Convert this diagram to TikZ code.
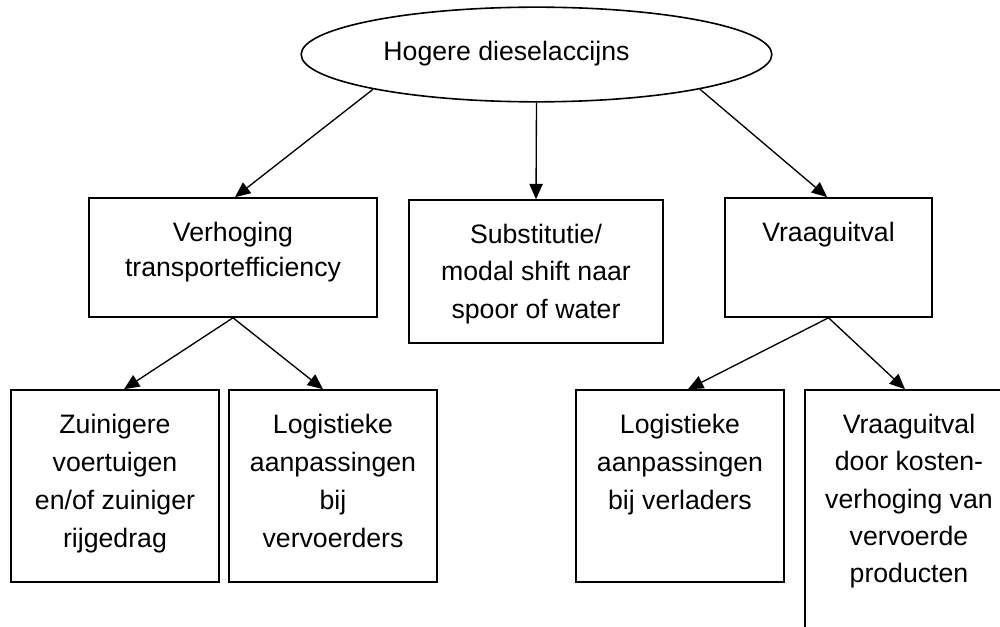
\documentclass[tikz,border=0pt]{standalone}
\usepackage{fontspec}
\setmainfont{Liberation Sans}
\usetikzlibrary{shapes.geometric,arrows.meta}
\begin{document}
\begin{tikzpicture}[x=0.75pt,y=-0.75pt,
  box/.style={draw,line width=1.2pt,inner sep=0pt,rectangle},
  smallbox/.style={box,minimum width=156pt,minimum height=144pt},
  lbl/.style={anchor=north,inner sep=0pt,align=center,font={\fontsize{20}{28}\selectfont}},
  conn/.style={line width=1pt,-{Triangle[length=11.5pt,width=10pt]}}]
\useasboundingbox (0,0) rectangle (1000,627);
\node[draw,ellipse,line width=1.2pt,minimum width=353pt,minimum height=71pt,inner sep=0pt] (ell) at (536.5,54.5) {};
\node[inner sep=0pt,font={\fontsize{20}{28}\selectfont}] (te) at ([xshift=-22.5pt,yshift=0.5pt]ell.center) {Hogere dieselaccijns};
% boxes
\node[box,minimum width=216pt,minimum height=89.25pt] (b1) at (233,257.5) {};
\node[box,minimum width=190.5pt,minimum height=107.25pt] (b2) at (536,271.5) {};
\node[box,minimum width=155.25pt,minimum height=89.25pt] (b3) at (828.5,257.5) {};
\node[smallbox] (b4) at (115,486) {};
\node[smallbox] (b5) at (333,486) {};
\node[smallbox] (b6) at (680,486) {};
\node[box,minimum width=156pt,minimum height=195pt] (b7) at (909,520) {};
% texts
\node[lbl,font={\fontsize{20}{26.25}\selectfont}] (t1) at ([yshift=-13pt]b1.north) {\rule{0pt}{20pt}Verhoging\\transportefficiency};
\node[lbl] (t2) at ([yshift=-13pt]b2.north) {\rule{0pt}{20pt}Substitutie/\\modal shift naar\\spoor of water};
\node[lbl] (t3) at ([yshift=-13pt]b3.north) {\rule{0pt}{20pt}Vraaguitval};
\node[lbl,font={\fontsize{20}{28.5}\selectfont}] (t4) at ([yshift=-13pt]b4.north) {\rule{0pt}{20pt}Zuinigere\\voertuigen\\en/of zuiniger\\rijgedrag};
\node[lbl,font={\fontsize{20}{28.5}\selectfont}] (t5) at ([yshift=-13pt]b5.north) {\rule{0pt}{20pt}Logistieke\\aanpassingen\\bij\\vervoerders};
\node[lbl,font={\fontsize{20}{28.5}\selectfont}] (t6) at ([yshift=-13pt]b6.north) {\rule{0pt}{20pt}Logistieke\\aanpassingen\\bij verladers};
\node[lbl] (t7) at ([yshift=-13pt]b7.north) {\rule{0pt}{20pt}Vraaguitval\\door kosten-\\verhoging van\\vervoerde\\producten};
% connectors
\draw[conn] (ell.192) -- ([xshift=1.5pt]b1.north);
\draw[conn] (ell.south) -- (b2.north);
\draw[conn] (ell.348) -- ([xshift=-1pt]b3.north);
\draw[conn] (b1.south) -- ([xshift=6.75pt]b4.north);
\draw[conn] (b1.south) -- ([xshift=-7.5pt]b5.north);
\draw[conn] (b3.south) -- ([xshift=6pt]b6.north);
\draw[conn] (b3.south) -- ([xshift=-3pt]b7.north);
\end{tikzpicture}
\end{document}
